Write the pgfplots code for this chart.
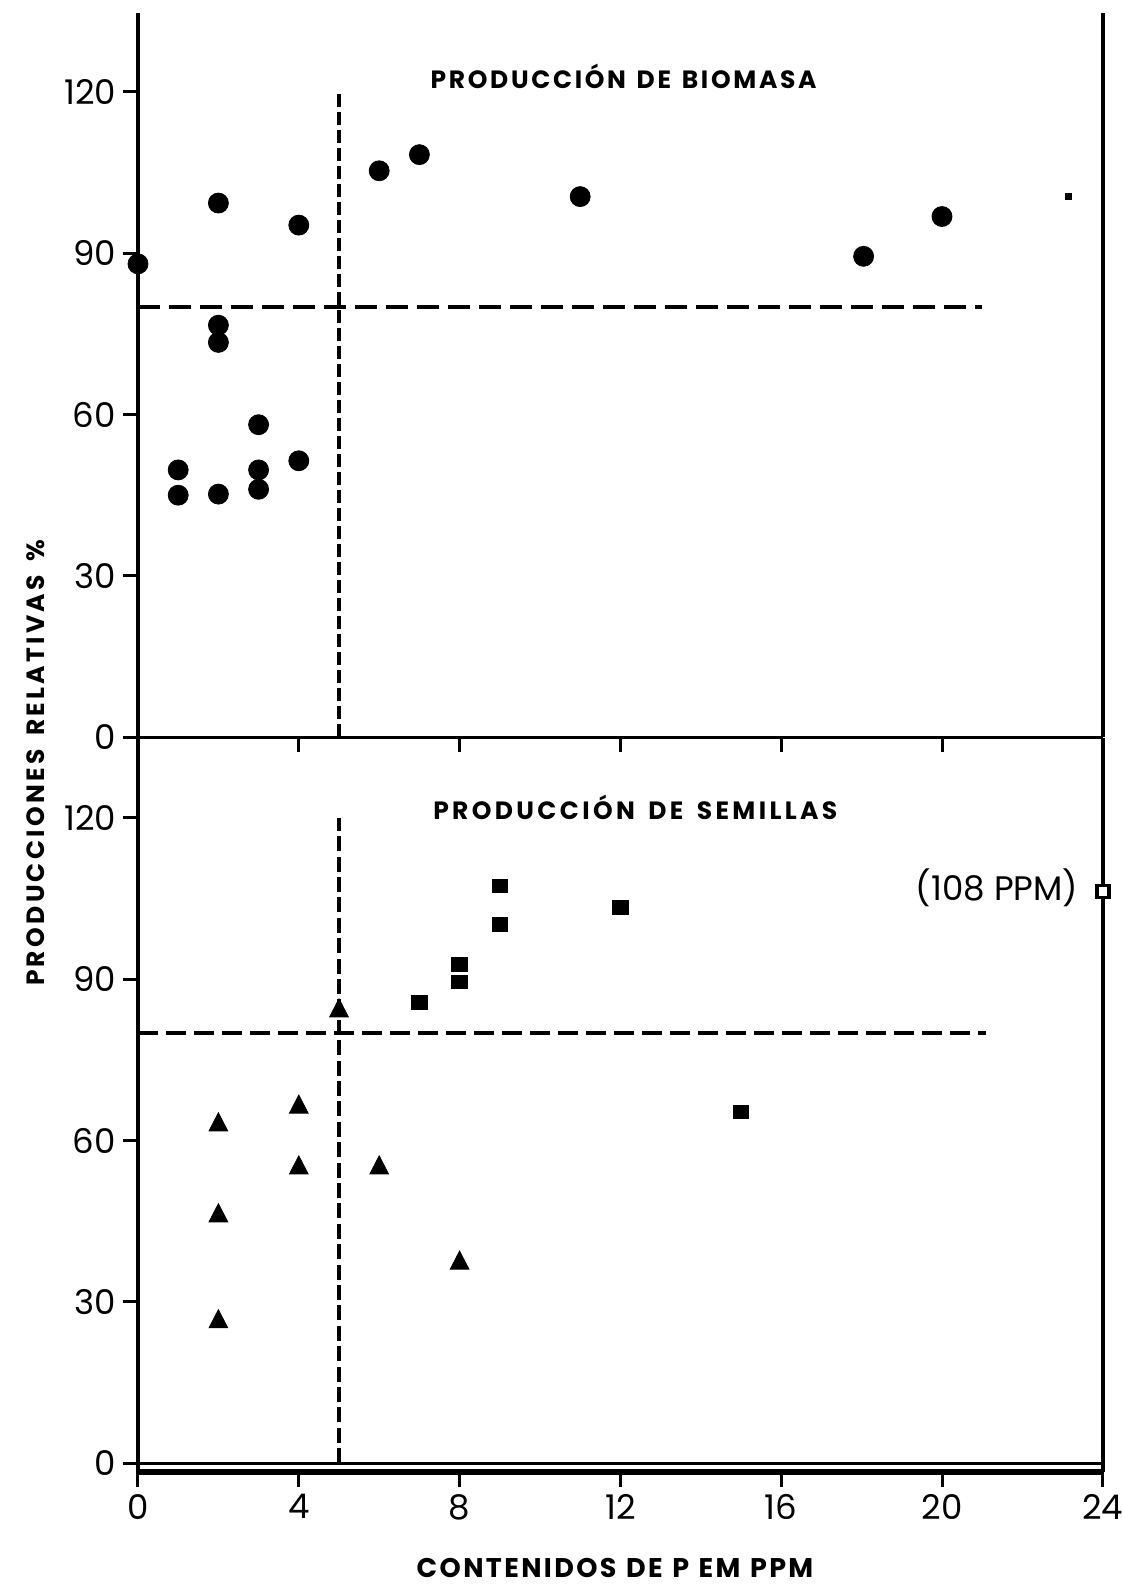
\documentclass[border=0pt]{standalone}
\usepackage{fontspec}
\setmainfont{Poppins}
\usepackage{pgfplots}
\pgfplotsset{compat=1.18}
\newcommand{\ls}{\hskip 0pt plus 1fil\relax}
\newcommand{\ws}{\hskip 0pt plus 4fil\relax}

\pgfplotstableread{
x y
0 88.0
1 49.7
1 45.0
2 99.3
2 76.6
2 73.4
2 45.2
3 58.1
3 49.7
3 46.1
4 95.2
4 51.4
6 105.3
7 108.3
11 100.5
18.05 89.4
20 96.8
}\biomasa

\pgfplotstableread{
x y
2 62.9
2 46.0
2 26.3
4 66.2
4 54.9
5 84.1
6 54.9
8 37.2
}\triangulos

\pgfplotstableread{
x y
7 85.7
8 92.7
8 89.5
9 107.3
9 100.1
12 103.3
15 65.3
}\cuadrados

\pgfplotsset{
  panel/.style={
    x=20.10pt, y=2.69pt, xmin=0, xmax=24,
    axis x line=bottom, axis y line=left,
    axis line style={-, line width=1.7pt, black},
    tick align=outside, major tick length=7.5pt,
    tick style={line width=1.5pt, black},
    ytick={0,30,60,90,120},
    /pgf/number format/assume math mode=true,
    ticklabel style={font=\fontsize{17}{17}\selectfont},
    clip=false,
  }
}

\begin{document}
\begin{tikzpicture}
\useasboundingbox (0,0) rectangle (561pt,793.5pt);

% ---------- top panel ----------
\begin{axis}[panel,
  at={(69pt,424.85pt)}, anchor=south west,
  ymin=0, ymax=134.6,
  xtick={4,8,12,16,20}, xticklabels={},
]
\addplot[black, line width=1.9pt, dash pattern=on 11pt off 4.5pt] coordinates {(0,80) (21,80)};
\addplot[black, line width=1.9pt, dash pattern=on 6.5pt off 2.5pt] coordinates {(5,0) (5,120)};
\addplot[only marks, mark=*, mark size=5pt, black] table {\biomasa};
\addplot[only marks, mark=square*, mark size=1.6pt, black] coordinates {(23.15,100.5)};
\draw[line width=1.7pt] (axis cs:24,0) -- (axis cs:24,134.6);
\node[font=\bfseries\fontsize{12.5}{14}\selectfont, anchor=base] at (axis cs:12.08,120.6)
  {\makebox[193pt][s]{P\ls R\ls O\ls D\ls U\ls C\ls C\ls I\ls Ó\ls N\ws D\ls E\ws B\ls I\ls O\ls M\ls A\ls S\ls A}};
\end{axis}

% ---------- bottom panel ----------
\begin{axis}[panel,
  at={(69pt,57.36pt)}, anchor=south west,
  ymin=-1.67, ymax=134.9,
  x axis line style={line width=3pt},
  xtick={0,4,8,12,16,20,24},
]
\addplot[black, line width=1.9pt, dash pattern=on 10pt off 4pt] coordinates {(0,80) (21.1,80)};
\addplot[black, line width=1.9pt, dash pattern=on 7.5pt off 2.7pt] coordinates {(5,0) (5,120)};
\addplot[only marks, mark=triangle*, mark size=5.4pt, mark options={yscale=1.12}, black] table {\triangulos};
\addplot[only marks, mark=square*, mark size=3.9pt, mark options={yscale=0.88}, black] table {\cuadrados};
\addplot[only marks, mark=square*, mark size=3pt, mark options={fill=white, draw=black, line width=1.8pt}] coordinates {(24,106.3)};
\draw[line width=1.5pt] (axis cs:0,0) -- (axis cs:24,0);
\draw[line width=1.7pt] (axis cs:24,-1.67) -- (axis cs:24,134.9);
\node[font=\bfseries\fontsize{12.5}{14}\selectfont, anchor=base] at (axis cs:12.37,119.7)
  {\makebox[202pt][s]{P\ls R\ls O\ls D\ls U\ls C\ls C\ls I\ls Ó\ls N\ws D\ls E\ws S\ls E\ls M\ls I\ls L\ls L\ls A\ls S}};
\node[font=\fontsize{17}{17}\selectfont, anchor=base east, xshift=-8.75pt] at (axis cs:24,104.7) {(108 PPM)};
\end{axis}

% ---------- axis titles ----------
\node[font=\bfseries\fontsize{13.5}{15}\selectfont, anchor=base] at (307.5pt,5pt)
  {\makebox[198.3pt][s]{C\ls O\ls N\ls T\ls E\ls N\ls I\ls D\ls O\ls S\ws D\ls E\ws P\ws E\ls M\ws P\ls P\ls M}};
\node[font=\bfseries\fontsize{12.5}{14}\selectfont, anchor=base, rotate=90] at (22.15pt,412pt)
  {\makebox[223pt][s]{P\ls R\ls O\ls D\ls U\ls C\ls C\ls I\ls O\ls N\ls E\ls S\ws R\ls E\ls L\ls A\ls T\ls I\ls V\ls A\ls S\ws \%}};
\end{tikzpicture}
\end{document}
